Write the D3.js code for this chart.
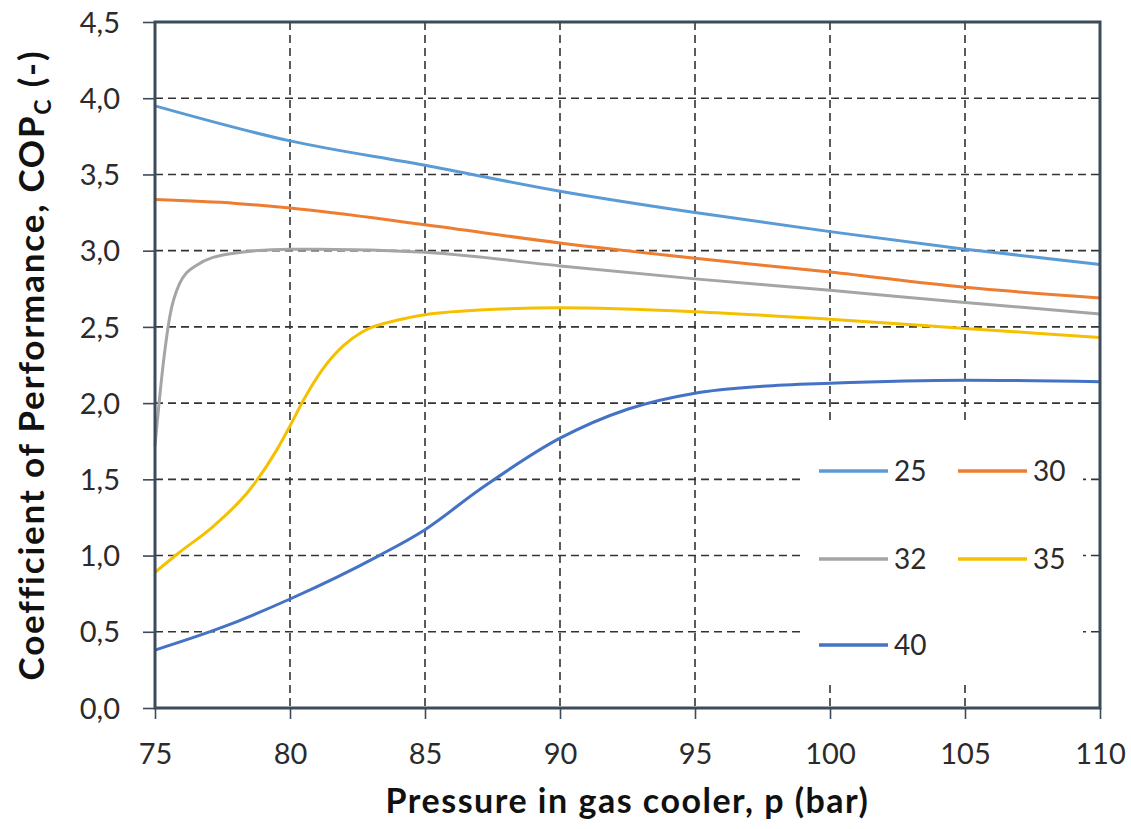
<!DOCTYPE html>
<html lang="en">
<head>
	<meta charset="utf-8">
	<title>COP vs gas cooler pressure</title>
	<script src="https://cdnjs.cloudflare.com/ajax/libs/d3/7.8.5/d3.min.js"></script>
	<style>
	body {
		margin: 0;
		background-color: #ffffff;
	}
	#chart text {
		font-family: Lato, "Open Sans", sans-serif;
	}
	</style>
</head>
<body>
<svg id="chart" width="1131" height="829"></svg>
<script>
// values
var xTicks = [75, 80, 85, 90, 95, 100, 105, 110];
var yTicks = [0, 0.5, 1, 1.5, 2, 2.5, 3, 3.5, 4, 4.5];

var p25 = [75, 80, 85, 90, 95, 100, 105, 110];
var cop25 = [3.95, 3.72, 3.56, 3.39, 3.25, 3.125, 3.01, 2.91];

var p30 = [75, 78, 80, 85, 90, 95, 100, 105, 110];
var cop30 = [3.335, 3.31, 3.28, 3.17, 3.05, 2.95, 2.86, 2.76, 2.69];

var p32 = [75, 75.3, 75.55, 75.9, 76.5, 77.8, 80, 81, 85, 90, 95, 100, 105, 110];
var cop32 = [1.72, 2.25, 2.57, 2.78, 2.90, 2.98, 3.01, 3.01, 2.99, 2.90, 2.815, 2.74, 2.66, 2.585];

var p35 = [75, 75.9, 77.15, 78.5, 79.5, 80, 80.5, 81.2, 82, 82.7, 84, 85, 87, 90, 95, 100, 105, 110];
var cop35 = [0.89, 1.02, 1.19, 1.43, 1.69, 1.85, 2.02, 2.22, 2.38, 2.47, 2.545, 2.58, 2.61, 2.625, 2.60, 2.55, 2.49, 2.43];

var p40 = [75, 77.5, 80, 83.3, 85, 87, 90, 92.5, 95, 97.5, 100, 105, 110];
var cop40 = [0.38, 0.53, 0.715, 1.00, 1.17, 1.43, 1.77, 1.96, 2.065, 2.11, 2.13, 2.15, 2.14];

var seriesNames = ['25', '30', '32', '35', '40'];
var seriesColors = ['#5b9bd5', '#ed7d31', '#a5a5a5', '#f5c000', '#4472c4'];

var series = [
	{name: '25', p: p25, cop: cop25},
	{name: '30', p: p30, cop: cop30},
	{name: '32', p: p32, cop: cop32},
	{name: '35', p: p35, cop: cop35},
	{name: '40', p: p40, cop: cop40}
];

var svg = d3.select('#chart');
var plotL = 155, plotR = 1100, plotT = 22, plotB = 708;

var x = d3.scaleLinear().domain([75, 110]).range([plotL, plotR]);
var y = d3.scaleLinear().domain([0, 4.5]).range([plotB, plotT]);
var color = d3.scaleOrdinal().domain(seriesNames).range(seriesColors);

var comma = d3.formatLocale({decimal: ',', thousands: '.', grouping: [3], currency: ['', '']}).format('.1f');

svg.append('rect').attr('x', 0).attr('y', 0).attr('width', 1131).attr('height', 829).attr('fill', '#fff');

// dashed grid
var grid = svg.append('g').attr('stroke', '#333').attr('stroke-width', 1.6).attr('stroke-dasharray', '8,5');
grid.selectAll('.vg').data(xTicks.slice(1, -1)).enter().append('line')
	.attr('x1', function(d) { return x(d); }).attr('x2', function(d) { return x(d); })
	.attr('y1', plotT).attr('y2', plotB);
grid.selectAll('.hg').data(yTicks.slice(1, -1)).enter().append('line')
	.attr('x1', plotL).attr('x2', plotR)
	.attr('y1', function(d) { return y(d); }).attr('y2', function(d) { return y(d); });

// legend background hides the grid behind it
svg.append('rect').attr('x', 800).attr('y', 423).attr('width', 283).attr('height', 260).attr('fill', '#fff');

// curves
var line = d3.line()
	.x(function(d) { return x(d[0]); })
	.y(function(d) { return y(d[1]); })
	.curve(d3.curveMonotoneX);

svg.selectAll('.series').data(series).enter().append('path')
	.attr('fill', 'none')
	.attr('stroke', function(d) { return color(d.name); })
	.attr('stroke-width', 3)
	.attr('d', function(d) { return line(d3.zip(d.p, d.cop)); });

// axes
var xAxis = svg.append('g').attr('transform', 'translate(0,' + plotB + ')')
	.call(d3.axisBottom(x).tickValues(xTicks).tickSize(11).tickPadding(24).tickFormat(d3.format('d')));
var yAxis = svg.append('g').attr('transform', 'translate(' + plotL + ',0)')
	.call(d3.axisLeft(y).tickValues(yTicks).tickSize(12).tickPadding(23).tickFormat(comma));

[xAxis, yAxis].forEach(function(a) {
	a.select('.domain').remove();
	a.selectAll('line').attr('stroke', '#3b4b5b').attr('stroke-width', 1.6);
	a.selectAll('text').attr('font-size', 29).attr('fill', '#2b2b2b');
});
xAxis.selectAll('text').attr('dy', '0.71em');
yAxis.selectAll('text').attr('dy', '0.35em');

// plot frame
svg.append('rect')
	.attr('x', plotL).attr('y', plotT)
	.attr('width', plotR - plotL).attr('height', plotB - plotT)
	.attr('fill', 'none').attr('stroke', '#3b4b5b').attr('stroke-width', 3);

// axis titles
svg.append('text')
	.attr('x', (plotL + plotR) / 2).attr('y', 813)
	.attr('text-anchor', 'middle')
	.attr('font-size', 34).attr('font-weight', 'bold').attr('fill', '#111')
	.attr('letter-spacing', 1.5)
	.text('Pressure in gas cooler, p (bar)');

var yt = svg.append('text')
	.attr('transform', 'translate(44,' + ((plotT + plotB) / 2) + ') rotate(-90)')
	.attr('text-anchor', 'middle')
	.attr('font-size', 35).attr('font-weight', 'bold').attr('fill', '#111')
	.attr('letter-spacing', 1.8);
yt.append('tspan').text('Coefficient of Performance, COP');
yt.append('tspan').attr('font-size', 23).attr('dy', 7).text('C');
yt.append('tspan').attr('dy', -7).text(' (-)');

// legend
var legendPos = [[819, 471], [958, 471], [819, 559], [958, 559], [819, 645]];
var leg = svg.selectAll('.leg').data(series).enter().append('g')
	.attr('transform', function(d, i) { return 'translate(' + legendPos[i][0] + ',' + legendPos[i][1] + ')'; });
leg.append('line').attr('x1', 0).attr('x2', 69).attr('y1', 0).attr('y2', 0)
	.attr('stroke', function(d) { return color(d.name); }).attr('stroke-width', 3.5);
leg.append('text').attr('x', 75).attr('dy', '0.35em')
	.attr('font-size', 28).attr('fill', '#2b2b2b')
	.text(function(d) { return d.name; });
</script>
</body>
</html>
